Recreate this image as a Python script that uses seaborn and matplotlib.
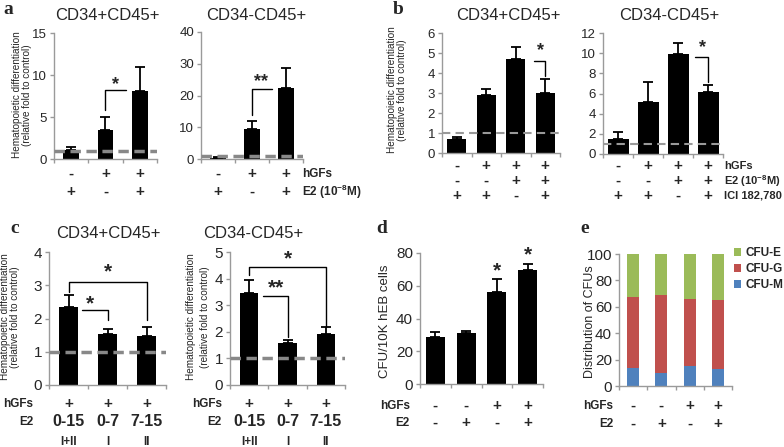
import numpy as np
import pandas as pd
import matplotlib
matplotlib.use("Agg")
import matplotlib.pyplot as plt
import seaborn as sns
from matplotlib.transforms import blended_transform_factory
from matplotlib.patches import Patch

# ---------------- data ----------------
A1_VALUES = [1.1, 3.5, 8.1]
A1_ERR = [0.35, 1.45, 2.9]
A2_VALUES = [0.3, 9.5, 22.5]
A2_ERR = [0.4, 2.6, 6.3]
A_HGFS = ["-", "+", "+"]
A_E2 = ["+", "-", "+"]

B1_VALUES = [0.7, 2.9, 4.7, 3.0]
B1_ERR = [0.1, 0.3, 0.6, 0.7]
B2_VALUES = [1.5, 5.2, 9.9, 6.1]
B2_ERR = [0.7, 1.9, 1.1, 0.7]
B_HGFS = ["-", "+", "+", "+"]
B_E2 = ["-", "-", "+", "+"]
B_ICI = ["+", "+", "-", "+"]

C1_VALUES = [2.35, 1.52, 1.47]
C1_ERR = [0.35, 0.17, 0.28]
C2_VALUES = [3.45, 1.58, 1.92]
C2_ERR = [0.5, 0.1, 0.25]
C_HGFS = ["+", "+", "+"]
C_E2 = ["0-15", "0-7", "7-15"]
C_PHASE = ["I+II", "I", "II"]

D_VALUES = [29, 31, 56, 69.5]
D_ERR = [3, 1.5, 8, 4]
D_HGFS = ["-", "-", "+", "+"]
D_E2 = ["-", "+", "-", "+"]

E_CFU_M = [14, 10, 15, 13]
E_CFU_G = [53.5, 59, 51, 52]
E_CFU_E = [32.5, 31, 34, 35]
E_HGFS = ["-", "-", "+", "+"]
E_E2 = ["-", "+", "-", "+"]
E_LABELS = ["CFU-E", "CFU-G", "CFU-M"]
E_COLORS = ["#9BBB59", "#C0504D", "#4F81BD"]

YLAB_HEMA = "Hematopoietic differentiation\n(relative fold to control)"

# ---------------- style ----------------
sns.set_theme(style="white")
plt.rcParams['font.family'] = ['Liberation Sans', 'DejaVu Sans']
plt.rcParams['mathtext.fontset'] = 'custom'
plt.rcParams['mathtext.rm'] = 'Liberation Sans'
plt.rcParams['mathtext.bf'] = 'Liberation Sans:bold'

W, H = 784, 447
fig = plt.figure(figsize=(W / 100, H / 100), dpi=100)
AXC = "#9a9a9a"
PM = 11  # size of +/- row symbols


def px_axes(l, t, r, b):
    return fig.add_axes([l / W, 1 - b / H, (r - l) / W, (b - t) / H])


def ftext(x, y, s, **kw):
    fig.text(x / W, 1 - y / H, s, **kw)


def bar_panel(ax, values, errs, width, ylim, yticks, fs=9.5):
    n = len(values)
    df = pd.DataFrame({"pos": np.arange(n), "val": values})
    sns.barplot(data=df, x="pos", y="val", color="black", width=width,
                errorbar=None, saturation=1, ax=ax, linewidth=0, zorder=2)
    if errs is not None:
        ax.errorbar(df["pos"], df["val"], yerr=[np.zeros(n), errs], fmt="none",
                    ecolor="black", elinewidth=1.3, capsize=3.5, capthick=1.3, zorder=3)
    style_ax(ax, n, ylim, yticks, fs)


def style_ax(ax, n, ylim, yticks, fs=9.5):
    ax.set_xlim(-0.5, n - 0.5)
    ax.set_ylim(*ylim)
    ax.set_yticks(yticks)
    ax.set_xticks(np.arange(-0.5, n, 1.0))
    ax.set_xticklabels([])
    ax.set_xlabel("")
    ax.set_ylabel("")
    for s in ["top", "right"]:
        ax.spines[s].set_visible(False)
    for s in ["left", "bottom"]:
        ax.spines[s].set_color(AXC)
        ax.spines[s].set_linewidth(1.0)
    ax.tick_params(axis="both", left=True, bottom=True, direction="out",
                   length=3, color=AXC, width=1.0, labelsize=fs, pad=2)
    ax.patch.set_alpha(0)


def rows(ax, ys, rowlists):
    tr = blended_transform_factory(ax.transData, fig.transFigure)
    for y, (lst, f) in zip(ys, rowlists):
        for i, s in enumerate(lst):
            ax.text(i, 1 - y / H, s, transform=tr, ha="center", va="center",
                    fontweight="bold", fontsize=f)


def bracket(ax, xs, ys):
    ax.plot(xs, ys, color="black", lw=1.0, zorder=4, clip_on=False)


def star(ax, x, y, s="*", fs=13):
    ax.text(x, y, s, ha="center", va="center", fontweight="bold", fontsize=fs, zorder=5)


# ---------------- panel a ----------------
ax = px_axes(54, 33, 157, 159)
bar_panel(ax, A1_VALUES, A1_ERR, 0.45, (0, 15), [0, 5, 10, 15])
ax.axhline(1, color="#888888", lw=2.5, ls=(0, (3, 1.6)), zorder=4)
bracket(ax, [1, 1, 1.6], [5.8, 8.2, 8.2])
star(ax, 1.3, 8.9)
rows(ax, [174, 192], [(A_HGFS, PM), (A_E2, PM)])

ax = px_axes(201, 32, 303, 159)
bar_panel(ax, A2_VALUES, A2_ERR, 0.47, (0, 40), [0, 10, 20, 30, 40])
ax.axhline(1, color="#888888", lw=2.5, ls=(0, (3, 1.6)), zorder=4)
bracket(ax, [1, 1, 1.6], [14, 22, 22])
star(ax, 1.25, 24.5, "**")
rows(ax, [174, 192], [(A_HGFS, PM), (A_E2, PM)])
ftext(302, 174, "hGFs", fontweight="bold", fontsize=8.5, va="center", ha="left")
ftext(302, 192, r"E2 (10$^{\mathbf{-8}}$M)", fontweight="bold", fontsize=8.5, va="center", ha="left")

ftext(22, 95, YLAB_HEMA, rotation=90, ha="center", va="center", fontsize=7.2, linespacing=1.05)
ftext(107, 16, "CD34+CD45+", ha="center", va="center", fontsize=12)
ftext(256, 16, "CD34-CD45+", ha="center", va="center", fontsize=12)

# ---------------- panel b ----------------
ax = px_axes(442, 33, 560, 153)
bar_panel(ax, B1_VALUES, B1_ERR, 0.65, (0, 6), [0, 1, 2, 3, 4, 5, 6])
ax.axhline(1, color="#999999", lw=1.5, ls=(0, (4, 2.5)), zorder=4)
bracket(ax, [2.62, 3.0, 3.0], [4.6, 4.6, 3.85])
star(ax, 2.85, 5.1)
rows(ax, [166, 181, 196], [(B_HGFS, PM), (B_E2, PM), (B_ICI, PM)])

ax = px_axes(603, 33, 723, 154)
bar_panel(ax, B2_VALUES, B2_ERR, 0.7, (0, 12), [0, 2, 4, 6, 8, 10, 12])
ax.axhline(1, color="#999999", lw=1.5, ls=(0, (4, 2.5)), zorder=4)
bracket(ax, [2.57, 3.0, 3.0], [9.6, 9.6, 7.1])
star(ax, 2.82, 10.6)
rows(ax, [166, 181, 196], [(B_HGFS, PM), (B_E2, PM), (B_ICI, PM)])
ftext(724, 166, "hGFs", fontweight="bold", fontsize=8, va="center", ha="left")
ftext(724, 181, r"E2 (10$^{\mathbf{-8}}$M)", fontweight="bold", fontsize=8, va="center", ha="left")
ftext(724, 196, "ICI 182,780", fontweight="bold", fontsize=8, va="center", ha="left")

ftext(397, 90, YLAB_HEMA, rotation=90, ha="center", va="center", fontsize=7.2, linespacing=1.05)
ftext(508, 15, "CD34+CD45+", ha="center", va="center", fontsize=12)
ftext(669, 15, "CD34-CD45+", ha="center", va="center", fontsize=12)

# ---------------- panel c ----------------
ax = px_axes(49, 252, 166, 385)
bar_panel(ax, C1_VALUES, C1_ERR, 0.5, (0, 4), [0, 1, 2, 3, 4], fs=11)
ax.axhline(1, color="#888888", lw=2.5, ls=(0, (3, 1.6)), zorder=4)
bracket(ax, [0, 0, 2, 2], [2.8, 3.1, 3.1, 1.95])
star(ax, 1.0, 3.4, fs=15)
bracket(ax, [0.35, 1.0, 1.0], [2.25, 2.25, 1.95])
star(ax, 0.55, 2.45, fs=15)
rows(ax, [404, 422, 442], [(C_HGFS, PM), (C_E2, 11.5), (C_PHASE, 8.5)])
ftext(33, 404, "hGFs", fontweight="bold", fontsize=8.5, va="center", ha="right")
ftext(33, 422, "E2", fontweight="bold", fontsize=8.5, va="center", ha="right")

ax = px_axes(230, 252, 345, 385)
bar_panel(ax, C2_VALUES, C2_ERR, 0.48, (0, 5), [0, 1, 2, 3, 4, 5], fs=11)
ax.axhline(1, color="#888888", lw=2.5, ls=(0, (3, 1.6)), zorder=4)
bracket(ax, [0, 0, 2, 2], [4.15, 4.43, 4.43, 2.2])
star(ax, 1.0, 4.75, fs=15)
bracket(ax, [0.36, 1.0, 1.0], [3.35, 3.35, 1.8])
star(ax, 0.7, 3.65, "**", fs=15)
rows(ax, [404, 422, 442], [(C_HGFS, PM), (C_E2, 11.5), (C_PHASE, 8.5)])
ftext(222, 404, "hGFs", fontweight="bold", fontsize=8.5, va="center", ha="right")
ftext(222, 422, "E2", fontweight="bold", fontsize=8.5, va="center", ha="right")

ftext(10, 317, YLAB_HEMA, rotation=90, ha="center", va="center", fontsize=7.2, linespacing=1.05)
ftext(198, 317, YLAB_HEMA, rotation=90, ha="center", va="center", fontsize=7.2, linespacing=1.45)
ftext(108, 234, "CD34+CD45+", ha="center", va="center", fontsize=12)
ftext(253, 234, "CD34-CD45+", ha="center", va="center", fontsize=12)

# ---------------- panel d ----------------
ax = px_axes(420, 253, 543, 384)
bar_panel(ax, D_VALUES, D_ERR, 0.62, (0, 80), [0, 20, 40, 60, 80], fs=11)
star(ax, 2, 69, fs=15)
star(ax, 3, 79, fs=15)
rows(ax, [406, 423], [(D_HGFS, PM), (D_E2, PM)])
ftext(410, 406, "hGFs", fontweight="bold", fontsize=8.5, va="center", ha="right")
ftext(410, 423, "E2", fontweight="bold", fontsize=8.5, va="center", ha="right")
ftext(385, 321, "CFU/10K hEB cells", rotation=90, ha="center", va="center", fontsize=9.5)

# ---------------- panel e ----------------
ax = px_axes(619, 254, 732, 386)
m = np.array(E_CFU_M, dtype=float)
g = np.array(E_CFU_G, dtype=float)
e = np.array(E_CFU_E, dtype=float)
cum = [m + g + e, m + g, m]
for vals, col in zip(cum, E_COLORS):
    df = pd.DataFrame({"pos": np.arange(len(vals)), "val": vals})
    sns.barplot(data=df, x="pos", y="val", color=col, width=0.42,
                errorbar=None, saturation=1, ax=ax, linewidth=0)
style_ax(ax, 4, (0, 100), [0, 20, 40, 60, 80, 100], fs=11)
rows(ax, [406, 424], [(E_HGFS, PM), (E_E2, PM)])
ftext(613, 406, "hGFs", fontweight="bold", fontsize=8.5, va="center", ha="right")
ftext(613, 424, "E2", fontweight="bold", fontsize=8.5, va="center", ha="right")
ftext(590, 322, "Distribution of CFUs", rotation=90, ha="center", va="center", fontsize=9)
handles = [Patch(facecolor=c, edgecolor="none") for c in E_COLORS]
leg = fig.legend(handles, E_LABELS, loc="upper left",
                 bbox_to_anchor=(734 / W, 1 - 247 / H), frameon=False,
                 handlelength=0.6, handleheight=0.6, handletextpad=0.35,
                 labelspacing=0.35, borderaxespad=0, borderpad=0,
                 prop={"weight": "bold", "size": 8.5})

# ---------------- panel letters ----------------
for lx, ly, lt in [(8, 10, "a"), (398, 9, "b"), (15, 229, "c"), (382, 229, "d"), (585, 229, "e")]:
    ftext(lx, ly, lt, ha="center", va="center", fontsize=14, fontweight="bold",
          family=["Liberation Serif", "DejaVu Serif"])

fig.savefig("out.png", dpi=100)
